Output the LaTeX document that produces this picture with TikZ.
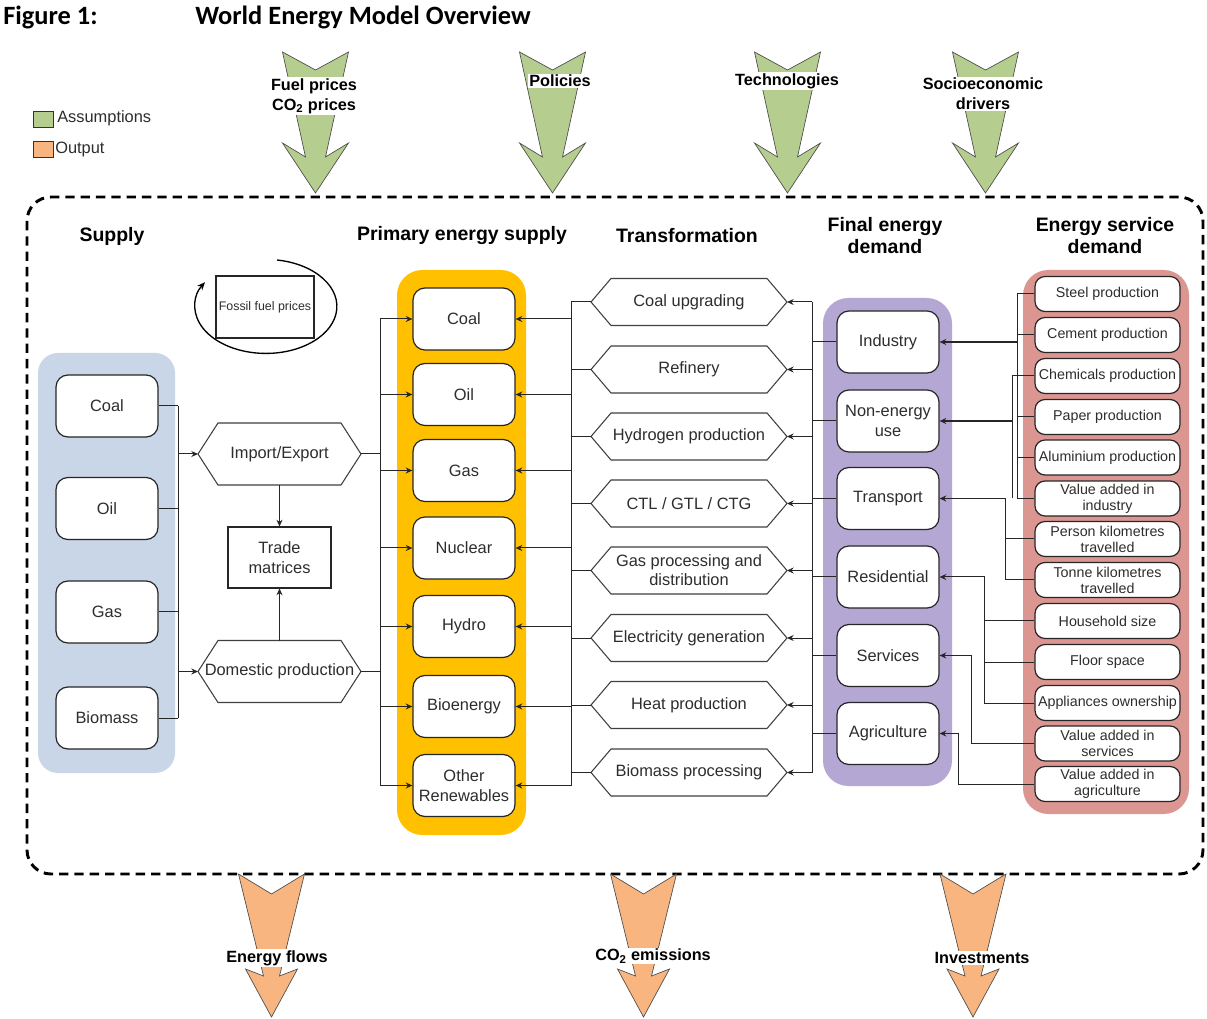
\documentclass[tikz,border=0pt]{standalone}
\usepackage{fontspec}
\setmainfont{Liberation Sans}
\newfontfamily\calfont{Carlito}
\usetikzlibrary{arrows.meta}
\definecolor{assumeG}{RGB}{181,205,142}
\definecolor{outO}{RGB}{248,181,128}
\definecolor{supB}{RGB}{200,214,231}
\definecolor{priO}{RGB}{255,192,0}
\definecolor{finP}{RGB}{181,167,212}
\definecolor{serR}{RGB}{219,150,146}
\definecolor{txt}{RGB}{45,45,45}
\tikzset{
  box/.style={draw=black!85, line width=0.9pt, rounded corners=9pt, fill=white,
    minimum width=76.5pt, minimum height=46.5pt, font=\fontsize{12.3}{15}\selectfont,
    text=txt, align=center, inner sep=1pt},
  sbox/.style={draw=black!85, line width=0.9pt, rounded corners=7.5pt, fill=white,
    minimum width=108.75pt, minimum height=26.25pt, font=\fontsize{10.7}{12}\selectfont,
    text=txt, align=center, inner sep=0.5pt},
  hexa/.style={minimum width=147pt, minimum height=35.25pt, outer sep=0pt,
    font=\fontsize{12.3}{14.3}\selectfont, text=txt, align=center, inner sep=1pt},
  hexb/.style={minimum width=122.25pt, minimum height=46.5pt, outer sep=0pt,
    font=\fontsize{12.3}{14.3}\selectfont, text=txt, align=center, inner sep=1pt},
  hexline/.style={draw=black!75, line width=0.8pt},
  rbox/.style={draw=black!85, line width=0.8pt, fill=white, font=\fontsize{12.3}{15}\selectfont,
    text=txt, align=center, inner sep=1pt},
  conn/.style={line width=0.75pt, draw=black!85},
  arr/.style={conn, -{Stealth[length=5pt,width=4.5pt]}},
  head/.style={font=\bfseries\fontsize{14.6}{16.5}\selectfont, align=center},
  arlab/.style={fill=white, inner sep=1pt, font=\bfseries\fontsize{12.2}{15}\selectfont, align=center},
  leg/.style={font=\fontsize{12.3}{15}\selectfont, text=txt, anchor=west, inner sep=0pt},
  greenar/.pic={\filldraw[fill=assumeG, draw=black!70, line width=0.5pt]
     (-33,0) -- (0,18) -- (33,0) -- (10,105) -- (33,91) -- (0,141) -- (-33,91) -- (-10,105) -- cycle;},
  orangear/.pic={\filldraw[fill=outO, draw=black!70, line width=0.5pt]
     (-33,0) -- (0,20) -- (33,0) -- (8,102) -- (26,95) -- (0,143) -- (-26,95) -- (-8,102) -- cycle;}
}
\begin{document}
\begin{tikzpicture}[x=0.75pt,y=-0.75pt]
\useasboundingbox (0,0) rectangle (1207,1019);
\fill[white] (0,0) rectangle (1207,1019);

% title
\node[anchor=west, inner sep=0pt, font=\calfont\bfseries\fontsize{19.8}{22}\selectfont] (fig) at (3,17) {Figure 1:};
\node[anchor=west, inner sep=0pt, font=\calfont\bfseries\fontsize{19.8}{22}\selectfont] (title) at (195,17) {World Energy Model Overview};

% legend
\filldraw[fill=assumeG, draw=black!80, line width=0.6pt] (33,111) rectangle (53,127);
\node[leg] (lgA) at (57,118) {Assumptions};
\filldraw[fill=outO, draw=black!80, line width=0.6pt] (33,141) rectangle (53,157);
\node[leg] (lgO) at (55,149) {Output};

% dashed frame
\draw[line width=2.2pt, dash pattern=on 7pt off 4.5pt, rounded corners=18pt] (27,197) rectangle (1203,874);

% input arrows
\pic at (315.5,52) {greenar};
\pic at (552.5,52) {greenar};
\pic at (787.5,52) {greenar};
\pic at (985.5,52) {greenar};
\node[arlab] (aFuel) at (314,96) {Fuel prices\\CO\textsubscript{2} prices};
\node[arlab] (aPol) at (560,81) {Policies};
\node[arlab] (aTech) at (787,81) {Technologies};
\node[arlab] (aSoc) at (983,94) {Socioeconomic\\drivers};

% output arrows
\pic at (271.5,874) {orangear};
\pic at (643.5,874) {orangear};
\pic at (973,874) {orangear};
\node[arlab] (oEF) at (277,958) {Energy flows};
\node[arlab] (oCO) at (653,956) {CO\textsubscript{2} emissions};
\node[arlab] (oInv) at (982,958) {Investments};

% headings
\node[head] (hSup) at (112,236) {Supply};
\node[head] (hPri) at (462,236) {Primary energy supply};
\node[head] (hTra) at (687,236) {Transformation};
\node[head] (hFin) at (885,236) {Final energy\\demand};
\node[head] (hSer) at (1105,236) {Energy service\\demand};

% panels
\fill[supB, rounded corners=15pt] (38,353) rectangle (175,773);
\fill[priO, rounded corners=19pt] (397,270) rectangle (526,835);
\fill[finP, rounded corners=19pt] (823,298) rectangle (952,786);
\fill[serR, rounded corners=19pt] (1023,270) rectangle (1189,814);

% fossil fuel prices loop
\node[rbox, minimum width=73.5pt, minimum height=46.5pt, font=\fontsize{9.3}{11}\selectfont] (ffp) at (265,307) {Fossil fuel prices};
\coordinate (loopS) at (277,260);
\draw[line width=1pt, -{Stealth[length=6pt,width=5pt]}] (loopS) arc[start angle=81, end angle=-211, x radius=53.25pt, y radius=35.25pt];

% supply boxes
\node[box] (sCoal) at (107,406) {Coal};
\node[box] (sOil) at (107,508.5) {Oil};
\node[box] (sGas) at (107,612) {Gas};
\node[box] (sBio) at (107,718) {Biomass};

% import / domestic / trade
\node[hexb] (impx) at (279.5,454) {Import/Export};
\node[hexb] (dom) at (279.5,671.5) {Domestic production};
\node[rbox, minimum width=77.25pt, minimum height=45.75pt] (trade) at (279.5,557.5) {Trade\\matrices};

% primary
\node[box] (pCoal) at (464,319) {Coal};
\node[box] (pOil) at (464,394.5) {Oil};
\node[box] (pGas) at (464,470.5) {Gas};
\node[box] (pNuc) at (464,548) {Nuclear};
\node[box] (pHyd) at (464,626.5) {Hydro};
\node[box] (pBio) at (464,706.5) {Bioenergy};
\node[box] (pOth) at (464,785.5) {Other\\Renewables};

% transformation
\node[hexa] (tCU) at (689,302) {Coal upgrading};
\node[hexa] (tRef) at (689,369.5) {Refinery};
\node[hexa] (tHyd) at (689,436.5) {Hydrogen production};
\node[hexa] (tCTL) at (689,503.5) {CTL / GTL / CTG};
\node[hexa] (tGas) at (689,570.5) {Gas processing and\\distribution};
\node[hexa] (tEl) at (689,638) {Electricity generation};
\node[hexa] (tHeat) at (689,705) {Heat production};
\node[hexa] (tBP) at (689,772.5) {Biomass processing};

% final energy demand
\node[box] (fInd) at (888,342) {Industry};
\node[box] (fNE) at (888,421) {Non-energy\\use};
\node[box] (fTr) at (888,498.5) {Transport};
\node[box] (fRes) at (888,577) {Residential};
\node[box] (fSer) at (888,655.5) {Services};
\node[box] (fAgr) at (888,733.5) {Agriculture};

% energy service demand
\node[sbox] (vSteel) at (1107.5,294) {Steel production};
\node[sbox] (vCem) at (1107.5,335) {Cement production};
\node[sbox] (vChem) at (1107.5,376) {Chemicals production};
\node[sbox] (vPap) at (1107.5,417) {Paper production};
\node[sbox] (vAlu) at (1107.5,457.5) {Aluminium production};
\node[sbox] (vVAI) at (1107.5,498.5) {Value added in\\industry};
\node[sbox] (vPers) at (1107.5,539) {Person kilometres\\travelled};
\node[sbox] (vTon) at (1107.5,580) {Tonne kilometres\\travelled};
\node[sbox] (vHH) at (1107.5,621) {Household size};
\node[sbox] (vFl) at (1107.5,662) {Floor space};
\node[sbox] (vApp) at (1107.5,703) {Appliances ownership};
\node[sbox] (vVAS) at (1107.5,743.5) {Value added in\\services};
\node[sbox] (vVAA) at (1107.5,784) {Value added in\\agriculture};

% hexagon outlines
\foreach \n in {tCU,tRef,tHyd,tCTL,tGas,tEl,tHeat,tBP,impx,dom}{
  \draw[hexline] (\n.west) -- ([xshift=15pt]\n.north west) -- ([xshift=-15pt]\n.north east)
     -- (\n.east) -- ([xshift=-15pt]\n.south east) -- ([xshift=15pt]\n.south west) -- cycle;
}

% bus coordinates
\coordinate (bS) at (178,0);
\coordinate (bP) at (380,0);
\coordinate (bTL) at (571,0);
\coordinate (bTR) at (812,0);
\coordinate (bInd) at (1017,0);
\coordinate (bNE) at (1012,0);
\coordinate (bTr) at (1005,0);
\coordinate (bRes) at (984,0);
\coordinate (bSer) at (971,0);
\coordinate (bAgr) at (958,0);

% supply connectors
\foreach \n in {sCoal,sOil,sGas,sBio} \draw[conn] (\n.east) -- (\n.east -| bS);
\draw[conn] (sCoal.east -| bS) -- (sBio.east -| bS);
\draw[arr] (impx.west -| bS) -- (impx.west);
\draw[arr] (dom.west -| bS) -- (dom.west);
\draw[arr] (impx.south) -- (trade.north);
\draw[arr] (dom.north) -- (trade.south);
\draw[conn] (impx.east) -- (impx.east -| bP);
\draw[conn] (dom.east) -- (dom.east -| bP);
\draw[conn] (pCoal.west -| bP) -- (pOth.west -| bP);
\foreach \n in {pCoal,pOil,pGas,pNuc,pHyd,pBio,pOth} \draw[arr] (\n.west -| bP) -- (\n.west);

% transformation connectors
\foreach \n in {tCU,tRef,tHyd,tCTL,tGas,tEl,tHeat,tBP} \draw[conn] (\n.west) -- (\n.west -| bTL);
\draw[conn] (tCU.west -| bTL) -- (pOth.east -| bTL);
\foreach \n in {pCoal,pOil,pGas,pNuc,pHyd,pBio,pOth} \draw[arr] (\n.east -| bTL) -- (\n.east);
\draw[conn] (tCU.east -| bTR) -- (tBP.east -| bTR);
\foreach \n in {tCU,tRef,tHyd,tCTL,tGas,tEl,tHeat,tBP} \draw[arr] (\n.east -| bTR) -- (\n.east);
\foreach \n in {fInd,fNE,fTr,fRes,fSer,fAgr} \draw[conn] (\n.west) -- (\n.west -| bTR);

% service -> final
\draw[conn] (vSteel.west) -- (vSteel.west -| bInd) -- (vVAI.west -| bInd) -- (vVAI.west);
\foreach \n in {vCem,vPap,vAlu} \draw[conn] (\n.west) -- (\n.west -| bInd);
\draw[arr, line width=1pt] (fInd.east -| bInd) -- (fInd.east);
\draw[conn] (vChem.west) -- (vChem.west -| bNE) -- (vVAI.west -| bNE);
\draw[arr, line width=1pt] (fNE.east -| bNE) -- (fNE.east);
\draw[arr] (vTon.west) -- (vTon.west -| bTr) -- (fTr.east -| bTr) -- (fTr.east);
\draw[conn] (vPers.west) -- (vPers.west -| bTr);
\draw[arr] (vApp.west) -- (vApp.west -| bRes) -- (fRes.east -| bRes) -- (fRes.east);
\foreach \n in {vHH,vFl} \draw[conn] (\n.west) -- (\n.west -| bRes);
\draw[arr] (vVAS.west) -- (vVAS.west -| bSer) -- (fSer.east -| bSer) -- (fSer.east);
\draw[arr] (vVAA.west) -- (vVAA.west -| bAgr) -- (fAgr.east -| bAgr) -- (fAgr.east);
\end{tikzpicture}
\end{document}
